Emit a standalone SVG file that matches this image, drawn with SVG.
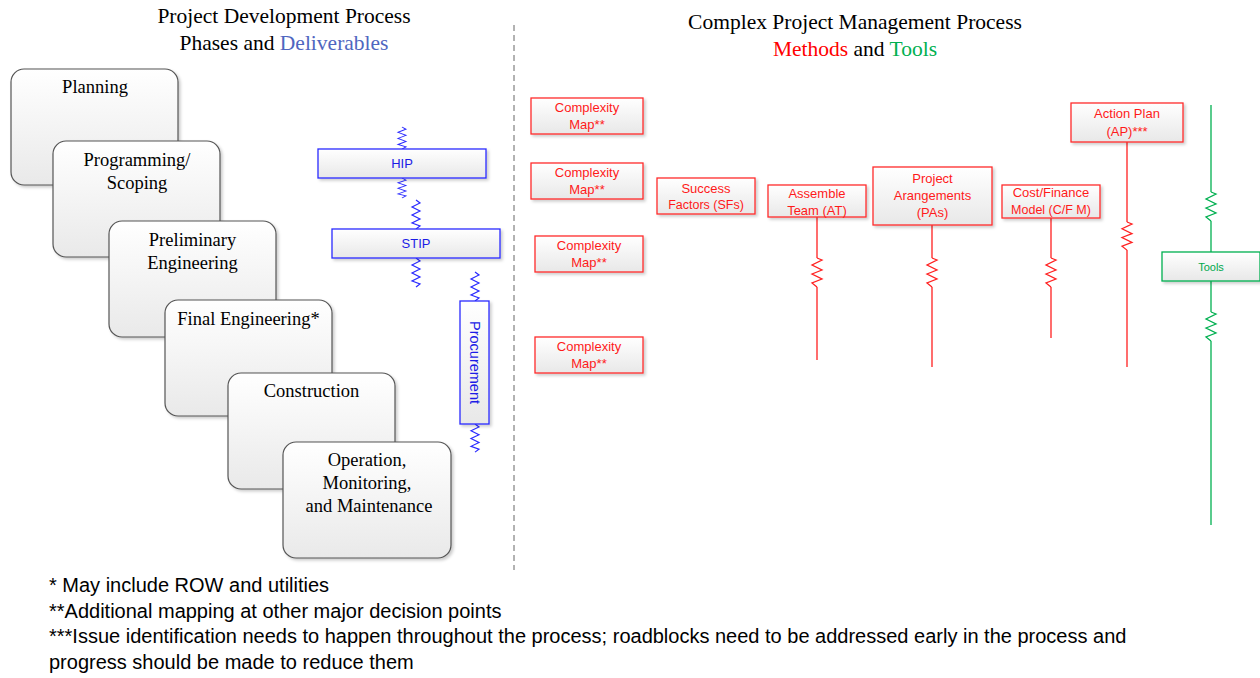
<svg xmlns="http://www.w3.org/2000/svg" xmlns:xlink="http://www.w3.org/1999/xlink" width="1260" height="678" viewBox="0 0 1260 678">
<defs>
  <linearGradient id="gPhase" x1="0" y1="0" x2="0" y2="1">
    <stop offset="0" stop-color="#ffffff"/>
    <stop offset="1" stop-color="#e9e9e9"/>
  </linearGradient>
  <linearGradient id="gBox" x1="0" y1="0" x2="0" y2="1">
    <stop offset="0" stop-color="#ffffff"/>
    <stop offset="1" stop-color="#e8e8e8"/>
  </linearGradient>
  <filter id="sh" x="-10%" y="-10%" width="130%" height="130%">
    <feDropShadow dx="2" dy="2" stdDeviation="1.5" flood-color="#000" flood-opacity="0.2"/>
  </filter>
  <path id="zz" d="M0,0 L5,2 L-5,7 L5,12 L-5,16 L5,21 L-5,25 L0,29" fill="none"/>
  <path id="sp" d="M0,0 L4,3 L-4,7 L4,11 L-4,15 L4,19 L-4,23 L4,26 L0,29" fill="none"/>
</defs>
<style>
  .serif { font-family: "Liberation Serif", "Times New Roman", serif; }
  .sans { font-family: "Liberation Sans", Arial, sans-serif; }
  .phase rect { fill: url(#gPhase); stroke: #555555; stroke-width: 1.2; filter: url(#sh); }
  .phase text { font-family: "Liberation Serif", "Times New Roman", serif; font-size: 18.5px; fill: #000; text-anchor: middle; }
  .blue rect { fill: url(#gBox); stroke: #2a2aff; stroke-width: 1.3; filter: url(#sh); }
  .blue text { font-family: "Liberation Sans", Arial, sans-serif; font-size: 13px; fill: #1c1ce6; text-anchor: middle; }
  .red rect { fill: url(#gBox); stroke: #ff2b2b; stroke-width: 1.3; filter: url(#sh); }
  .red text { font-family: "Liberation Sans", Arial, sans-serif; font-size: 13px; fill: #ff1a1a; text-anchor: middle; }
  .green rect { fill: url(#gBox); stroke: #00b050; stroke-width: 1.3; filter: url(#sh); }
  .green text { font-family: "Liberation Sans", Arial, sans-serif; font-size: 11px; fill: #00a84c; text-anchor: middle; }
  .lr { stroke: #ff2020; stroke-width: 1.3; fill: none; }
  .lb { stroke: #2a2aff; stroke-width: 1.2; fill: none; }
  .lg { stroke: #00b050; stroke-width: 1.3; fill: none; }
  .note { font-family: "Liberation Sans", Arial, sans-serif; font-size: 20px; fill: #000; }
</style>
<rect width="1260" height="678" fill="#ffffff"/>

<!-- Titles -->
<g id="title-left" class="serif" font-size="21.5" text-anchor="middle">
  <text x="284" y="23">Project Development Process</text>
  <text x="284" y="50">Phases and <tspan fill="#4f66c0">Deliverables</tspan></text>
</g>
<g id="title-right" class="serif" font-size="21.5" text-anchor="middle">
  <text x="855" y="29">Complex Project Management Process</text>
  <text x="855" y="56"><tspan fill="#ff0000">Methods</tspan> and <tspan fill="#00b050">Tools</tspan></text>
</g>

<!-- Divider -->
<line id="divider" x1="514" y1="25" x2="514" y2="570" stroke="#666666" stroke-width="1" stroke-dasharray="6,4"/>

<!-- Connectors -->
<g id="connectors">
  <!-- blue springs -->
  <use xlink:href="#sp" class="lb" transform="translate(402,127) scale(1,0.76)"/>
  <use xlink:href="#sp" class="lb" transform="translate(402,178) scale(1,0.69)"/>
  <use xlink:href="#sp" class="lb" transform="translate(416,200)"/>
  <use xlink:href="#sp" class="lb" transform="translate(416,258)"/>
  <use xlink:href="#sp" class="lb" transform="translate(475,272)"/>
  <use xlink:href="#sp" class="lb" transform="translate(475,424) scale(1,0.97)"/>
  <!-- Assemble Team -->
  <line class="lr" x1="817" y1="217" x2="817" y2="258"/>
  <use xlink:href="#zz" class="lr" transform="translate(817,258)"/>
  <line class="lr" x1="817" y1="287" x2="817" y2="360"/>
  <!-- Project Arangements -->
  <line class="lr" x1="932" y1="225" x2="932" y2="258"/>
  <use xlink:href="#zz" class="lr" transform="translate(932,258)"/>
  <line class="lr" x1="932" y1="287" x2="932" y2="367"/>
  <!-- Cost/Finance -->
  <line class="lr" x1="1051" y1="218" x2="1051" y2="258"/>
  <use xlink:href="#zz" class="lr" transform="translate(1051,258)"/>
  <line class="lr" x1="1051" y1="287" x2="1051" y2="338"/>
  <!-- Action Plan -->
  <line class="lr" x1="1127" y1="142" x2="1127" y2="222"/>
  <use xlink:href="#zz" class="lr" transform="translate(1127,222) scale(1,0.97)"/>
  <line class="lr" x1="1127" y1="250" x2="1127" y2="367"/>
  <!-- Tools -->
  <line class="lg" x1="1211" y1="105" x2="1211" y2="192"/>
  <use xlink:href="#zz" class="lg" transform="translate(1211,192)"/>
  <line class="lg" x1="1211" y1="221" x2="1211" y2="252"/>
  <line class="lg" x1="1211" y1="281" x2="1211" y2="312"/>
  <use xlink:href="#zz" class="lg" transform="translate(1211,312)"/>
  <line class="lg" x1="1211" y1="341" x2="1211" y2="525"/>
</g>

<!-- Phases -->
<g id="phase-planning" class="phase">
  <rect x="11" y="69" width="167" height="116" rx="13"/>
  <text x="95" y="93">Planning</text>
</g>
<g id="phase-programming" class="phase">
  <rect x="53" y="141" width="167" height="116" rx="13"/>
  <text x="137" y="166">Programming/</text>
  <text x="137" y="189">Scoping</text>
</g>
<g id="phase-preliminary" class="phase">
  <rect x="109" y="221" width="167" height="116" rx="13"/>
  <text x="192.5" y="245.5">Preliminary</text>
  <text x="192.5" y="269">Engineering</text>
</g>
<g id="phase-final" class="phase">
  <rect x="165" y="300" width="167" height="116" rx="13"/>
  <text x="248.5" y="325">Final Engineering*</text>
</g>
<g id="phase-construction" class="phase">
  <rect x="228" y="373" width="167" height="116" rx="13"/>
  <text x="311.5" y="397">Construction</text>
</g>
<g id="phase-operation" class="phase">
  <rect x="283" y="442" width="168" height="116" rx="13"/>
  <text x="367" y="466">Operation,</text>
  <text x="367" y="489">Monitoring,</text>
  <text x="369" y="512">and Maintenance</text>
</g>

<!-- Deliverables -->
<g id="hip" class="blue">
  <rect x="318" y="149" width="168" height="29"/>
  <text x="402" y="168">HIP</text>
</g>
<g id="stip" class="blue">
  <rect x="332" y="229" width="168" height="29"/>
  <text x="416" y="248">STIP</text>
</g>
<g id="procurement" class="blue">
  <rect x="460" y="301" width="29" height="123"/>
  <text transform="translate(469.5,362.5) rotate(90)" x="0" y="0" style="font-size:14.5px">Procurement</text>
</g>

<!-- Methods -->
<g id="cm1" class="red">
  <rect x="531" y="98" width="112" height="36"/>
  <text x="587" y="112">Complexity</text>
  <text x="587" y="129">Map**</text>
</g>
<g id="cm2" class="red">
  <rect x="531" y="163" width="112" height="36"/>
  <text x="587" y="177">Complexity</text>
  <text x="587" y="194">Map**</text>
</g>
<g id="cm3" class="red">
  <rect x="535" y="236" width="108" height="36"/>
  <text x="589" y="250">Complexity</text>
  <text x="589" y="267">Map**</text>
</g>
<g id="cm4" class="red">
  <rect x="535" y="337" width="108" height="36"/>
  <text x="589" y="351">Complexity</text>
  <text x="589" y="368">Map**</text>
</g>
<g id="sf" class="red">
  <rect x="657" y="178" width="98" height="36"/>
  <text x="706" y="192.5">Success</text>
  <text x="706" y="209" style="font-size:12.5px">Factors (SFs)</text>
</g>
<g id="at" class="red">
  <rect x="768" y="185" width="98" height="32"/>
  <text x="817" y="198">Assemble</text>
  <text x="817" y="214.5">Team (AT)</text>
</g>
<g id="pa" class="red">
  <rect x="873" y="167" width="119" height="58"/>
  <text x="932.5" y="183">Project</text>
  <text x="932.5" y="200">Arangements</text>
  <text x="932.5" y="217">(PAs)</text>
</g>
<g id="cfm" class="red">
  <rect x="1002" y="185" width="98" height="33"/>
  <text x="1051" y="197">Cost/Finance</text>
  <text x="1051" y="214" style="font-size:12.5px">Model (C/F M)</text>
</g>
<g id="ap" class="red">
  <rect x="1071" y="103" width="112" height="39"/>
  <text x="1127" y="118">Action Plan</text>
  <text x="1127" y="135.5">(AP)***</text>
</g>

<!-- Tools -->
<g id="tools" class="green">
  <rect x="1162" y="252" width="98" height="29"/>
  <text x="1211" y="271">Tools</text>
</g>

<!-- Footnotes -->
<g id="footnotes" class="note">
  <text x="49" y="592">* May include ROW and utilities</text>
  <text x="49" y="617.5">**Additional mapping at other major decision points</text>
  <text x="49" y="643">***Issue identification needs to happen throughout the process; roadblocks need to be addressed early in the process and</text>
  <text x="49" y="668.5">progress should be made to reduce them</text>
</g>
</svg>
